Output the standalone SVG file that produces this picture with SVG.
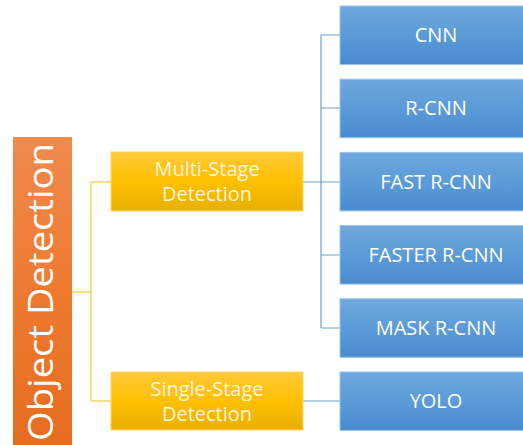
<svg xmlns="http://www.w3.org/2000/svg" width="523" height="445" viewBox="0 0 523 445">
<defs>
<linearGradient id="gBlue" x1="0" y1="0" x2="0" y2="1">
<stop offset="0" stop-color="#6EA8DD"/><stop offset="0.5" stop-color="#5B9BD8"/><stop offset="1" stop-color="#4A8BCD"/>
</linearGradient>
<linearGradient id="gYel" x1="0" y1="0" x2="0" y2="1">
<stop offset="0" stop-color="#FFCA3A"/><stop offset="0.5" stop-color="#FFC000"/><stop offset="1" stop-color="#E8AF00"/>
</linearGradient>
<linearGradient id="gOr" x1="0" y1="0" x2="0" y2="1">
<stop offset="0" stop-color="#F08A4E"/><stop offset="0.5" stop-color="#EE7A30"/><stop offset="1" stop-color="#E66C1E"/>
</linearGradient>
</defs>
<style>
.blue{fill:url(#gBlue);stroke:#9CC3E8;stroke-width:1}
.yel{fill:url(#gYel);stroke:#FFD866;stroke-width:1}
.or{fill:url(#gOr)}
.t{font-family:"Open Sans","Liberation Sans",sans-serif;fill:#FFFFFF;text-anchor:middle}
.bt{font-size:20px}
.yt{font-size:20px;fill:#FFF6DA}
.cb{fill:none;stroke:#6A9FD2;stroke-width:1.2}
.cy{fill:none;stroke:#F2D265;stroke-width:1.5}
</style>
<g id="connectors">
<path class="cy" d="M72 292H91M91 182V401M91 182H111M91 401H111"/>
<path class="cb" d="M303 182H340M321 35V328M321 35H340M321 108H340M321 255H340M321 328H340M303 401H340"/>
</g>
<g id="object-detection">
<rect class="or" x="13" y="137" width="59" height="312"/>
<text class="t" transform="translate(53,292) rotate(-90)" font-size="34" textLength="298" lengthAdjust="spacingAndGlyphs">Object Detection</text>
</g>
<g id="multi-stage">
<rect class="yel" x="111" y="152" width="192" height="59"/>
<text class="t yt" x="207" y="176">Multi-Stage</text>
<text class="t yt" x="207" y="201">Detection</text>
</g>
<g id="single-stage">
<rect class="yel" x="111" y="372" width="192" height="58"/>
<text class="t yt" x="207" y="396">Single-Stage</text>
<text class="t yt" x="207" y="421">Detection</text>
</g>
<g id="cnn">
<rect class="blue" x="340" y="6" width="192" height="58.5"/>
<text class="t bt" x="436" y="42">CNN</text>
</g>
<g id="r-cnn">
<rect class="blue" x="340" y="79.2" width="192" height="58.5"/>
<text class="t bt" x="436" y="115">R-CNN</text>
</g>
<g id="fast-r-cnn">
<rect class="blue" x="340" y="152.4" width="192" height="58.5"/>
<text class="t bt" x="436" y="188.5">FAST R-CNN</text>
</g>
<g id="faster-r-cnn">
<rect class="blue" x="340" y="225.6" width="192" height="58.5"/>
<text class="t bt" x="436" y="261.5">FASTER R-CNN</text>
</g>
<g id="mask-r-cnn">
<rect class="blue" x="340" y="298.8" width="192" height="58.5"/>
<text class="t bt" x="436" y="335">MASK R-CNN</text>
</g>
<g id="yolo">
<rect class="blue" x="340" y="372" width="192" height="58.5"/>
<text class="t bt" x="436" y="408">YOLO</text>
</g>
</svg>
